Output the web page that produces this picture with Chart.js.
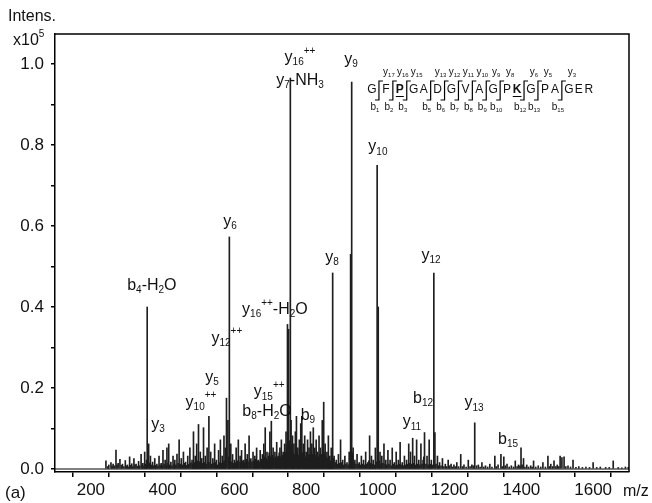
<!DOCTYPE html>
<html><head><meta charset="utf-8">
<script src="https://cdn.jsdelivr.net/npm/chart.js@4.4.1/dist/chart.umd.min.js"></script>
<style>html,body{margin:0;padding:0;background:#fff}canvas{display:block}</style>
</head><body>
<canvas id="c" width="652" height="503" style="width:652px;height:503px"></canvas>
<script>
// ---- data: m/z and intensity (x10^5) ----
const mzA = [242,247,250,256,259,262,266,270,273,276,
281,285,288,292,296,299,302,305,308,311,
314,317,320,323,326,330,333,336,340,343,
345,348,350,353,355,357,361,364,366,369,
372,375,378,381,384,387,390,393,396,399,
401,404,407,410,412,415,417,420,423,426,
429,432,434,437,440,443,446,449,452,455,
458,461,464,467,470,473,476,479,482,484,
486,489,491,493,495,498];
const intA = [.020,.006,.010,.016,.007,.012,.008,.047,.010,.014,
.024,.009,.012,.006,.021,.008,.010,.005,.030,.009,
.013,.006,.026,.010,.012,.007,.019,.008,.036,.010,
.014,.008,.042,.012,.022,.400,.062,.015,.032,.010,
.017,.008,.026,.009,.012,.007,.032,.010,.014,.008,
.046,.012,.022,.009,.052,.015,.062,.010,.017,.008,
.032,.012,.022,.010,.037,.014,.072,.012,.026,.010,
.042,.014,.017,.009,.032,.012,.052,.015,.022,.012,
.092,.016,.032,.012,.062,.020];
const mzB = [500,503,505,507,509,512,514,517,519,522,
524,527,529,532,534,537,540,543,545,548,
550,553,556,559,561,564,566,569,571,573,
575,578,582,584,586,588,590,593,595,598,
600,603,605,608,611,613,616,618,620,623,
626,628,630,633,636,638,641,643,646,649,
652,654,657,659,662,664,667,669,672,675,
678,680,682,684,686,689,691,693,695,697,
699,701,703,706,708,710,713,715,718,720,
722,725,727,729,731,734,736,738,740,742,
744,746,748,751,753,756,758,760];
const intB = [.110,.018,.042,.012,.026,.014,.102,.016,.032,.012,
.052,.018,.130,.016,.042,.012,.026,.014,.062,.016,
.022,.010,.046,.016,.072,.014,.032,.018,.082,.020,
.052,.175,.120,.030,.573,.040,.062,.018,.036,.014,
.022,.016,.052,.020,.072,.018,.032,.014,.046,.020,
.022,.016,.062,.024,.036,.018,.082,.022,.026,.018,
.042,.020,.032,.024,.052,.020,.022,.018,.046,.024,
.036,.022,.062,.030,.102,.026,.042,.022,.032,.040,
.092,.030,.118,.034,.052,.026,.042,.030,.066,.028,
.032,.040,.052,.030,.072,.034,.042,.030,.062,.040,
.092,.060,.357,.345,.070,.965,.120,.060];
const mzC = [762,764,766,768,770,773,775,777,779,781,
783,785,788,790,792,794,796,798,800,802,
804,806,808,810,812,814,816,818,820,822,
824,826,828,830,832,834,836,838,840,842,
845,847,849,851,853,856,858,860,862,864,
866,868,870,872,874,876,878,881,884,887,
890,893,896,899,902,905,908,911,914,917,
920,922,924,927,929,931,934,936,939,942,
945,948,951,954,957,960,963,966,969,972,
975,977,980,982,985,987,990,993,995,998];
const intC = [.082,.040,.062,.036,.092,.130,.040,.052,.034,.072,
.040,.112,.130,.040,.062,.036,.082,.030,.042,.036,
.072,.034,.052,.036,.092,.040,.062,.036,.102,.040,
.052,.034,.072,.036,.042,.030,.082,.036,.052,.036,
.120,.050,.165,.040,.062,.030,.042,.026,.082,.026,
.032,.020,.052,.040,.484,.026,.032,.016,.022,.012,
.036,.014,.072,.016,.022,.010,.032,.012,.016,.010,
.042,.020,.530,.955,.040,.052,.016,.022,.012,.036,
.012,.016,.010,.032,.012,.022,.010,.042,.012,.016,
.020,.082,.014,.032,.012,.022,.010,.052,.018,.750];
const mzD = [1001,1004,1006,1009,1011,1014,1017,1020,1022,1025,
1028,1031,1034,1037,1040,1043,1046,1049,1051,1054,
1057,1060,1062,1065,1068,1071,1074,1077,1080,1083,
1086,1089,1091,1094,1097,1100,1102,1105,1108,1111,
1114,1117,1120,1123,1126,1128,1130,1134,1137,1140,
1143,1146,1149,1152,1156,1159,1162,1166,1169,1172,
1176,1180,1184,1188,1192,1196,1200,1204,1208,1212,
1216,1220,1225,1231,1236,1240,1246,1252,1257,1262,
1266,1270,1275,1280,1285,1290,1295,1300,1306,1312,
1318,1326,1330,1335,1343,1347,1351,1355,1360,1366,
1372,1378,1383,1388,1392,1396,1399,1402,1406,1410,
1415,1420,1426,1430,1434,1440,1447,1454,1460,1467,
1474,1478,1482,1487,1491,1496,1500,1504,1508,1513,
1519,1524,1530,1537,1544,1552,1560,1570,1580,1590,
1600,1610,1620,1635,1645,1656,1670,1680,1690,1698];
const intD = [.400,.020,.042,.012,.032,.014,.062,.012,.022,.010,
.046,.012,.022,.008,.052,.012,.016,.008,.042,.010,
.022,.012,.066,.010,.016,.008,.032,.010,.022,.012,
.062,.014,.042,.012,.076,.014,.032,.010,.072,.012,
.022,.010,.062,.012,.022,.030,.090,.012,.032,.010,
.072,.012,.022,.010,.484,.090,.012,.032,.008,.016,
.008,.026,.006,.012,.006,.022,.008,.012,.005,.010,
.006,.016,.006,.036,.006,.010,.005,.022,.006,.010,
.008,.114,.008,.010,.005,.016,.005,.008,.005,.012,
.005,.032,.006,.010,.036,.006,.030,.008,.012,.005,
.008,.005,.020,.006,.010,.008,.052,.010,.026,.005,
.010,.005,.008,.005,.020,.005,.008,.005,.016,.005,
.032,.006,.012,.006,.020,.006,.010,.006,.032,.028,
.030,.006,.008,.005,.022,.004,.006,.004,.005,.004,
.016,.004,.005,.004,.004,.020,.004,.003,.005,.004];

const mzValues = [...mzA, ...mzB, ...mzC, ...mzD];
const intensities = [...intA, ...intB, ...intC, ...intD];

const xTickValues = [100,200,300,400,500,600,700,800,900,1000,1100,1200,1300,1400,1500,1600,1700];
const xTickLabels = [200,400,600,800,1000,1200,1400,1600];
const yTickValues = [0,0.1,0.2,0.3,0.4,0.5,0.6,0.7,0.8,0.9,1.0];
const yTickLabels = [0,0.2,0.4,0.6,0.8,1.0];

// peak annotations: text parts and centre in data units (m/z, intensity)
const peakLabels = [
  {mz:783, v:1.015, parts:[['y'],['16','sub'],['++','sup']]},
  {mz:783, v:0.960, parts:[['y'],['7','sub'],['-NH'],['3','sub']]},
  {mz:925, v:1.010, parts:[['y'],['9','sub']]},
  {mz:1000,v:0.795, parts:[['y'],['10','sub']]},
  {mz:872, v:0.523, parts:[['y'],['8','sub']]},
  {mz:1148,v:0.528, parts:[['y'],['12','sub']]},
  {mz:588, v:0.610, parts:[['y'],['6','sub']]},
  {mz:370, v:0.452, parts:[['b'],['4','sub'],['-H'],['2','sub'],['O']]},
  {mz:713, v:0.393, parts:[['y'],['16','sub'],['++','sup'],['-H'],['2','sub'],['O']]},
  {mz:697, v:0.190, parts:[['y'],['15','sub'],['++','sup']]},
  {mz:691, v:0.141, parts:[['b'],['8','sub'],['-H'],['2','sub'],['O']]},
  {mz:805, v:0.133, parts:[['b'],['9','sub']]},
  {mz:1126,v:0.175, parts:[['b'],['12','sub']]},
  {mz:1095,v:0.116, parts:[['y'],['11','sub']]},
  {mz:1268,v:0.163, parts:[['y'],['13','sub']]},
  {mz:1363,v:0.072, parts:[['b'],['15','sub']]},
  {mz:387, v:0.109, parts:[['y'],['3','sub']]},
  {mz:579, v:0.323, parts:[['y'],['12','sub'],['++','sup']]},
  {mz:538, v:0.225, parts:[['y'],['5','sub']]},
  {mz:507, v:0.165, parts:[['y'],['10','sub'],['++','sup']]}
];

// peptide sequence with fragment cleavage sites (after residue n)
const sequence = ['G','F','P','G','A','D','G','V','A','G','P','K','G','P','A','G','E','R'];
const cleavageAfter = [1,2,3,5,6,7,8,9,10,12,13,15];
const modifiedResidues = [3,12];

const FONT = '"Liberation Sans", Arial, sans-serif';

function drawRich(ctx, parts, cx, cy, size, align){
  const small = Math.round(size*0.62);
  const ws = parts.map(p=>{ctx.font = (p[1]?small:size)+'px '+FONT; return ctx.measureText(p[0]).width;});
  const total = ws.reduce((a,b)=>a+b,0);
  let x = align==='left' ? cx : (align==='right' ? cx-total : cx-total/2);
  ctx.textBaseline='middle'; ctx.textAlign='left';
  parts.forEach((p,i)=>{
    let yy = cy;
    if(p[1]==='sub'){ctx.font=small+'px '+FONT; yy = cy+size*0.3;}
    else if(p[1]==='sup'){ctx.font=small+'px '+FONT; yy = cy-size*0.42;}
    else ctx.font=size+'px '+FONT;
    ctx.fillText(p[0], x, yy);
    x += ws[i];
  });
}

const decor = {
  id:'decor',
  afterDraw(chart){
    const {ctx, chartArea:a, scales} = chart;
    const xs = scales.x, ys = scales.y;
    ctx.save();
    ctx.strokeStyle='#000';
    ctx.lineWidth=1.5;
    ctx.beginPath();
    ctx.moveTo(a.left, a.top); ctx.lineTo(a.right, a.top); ctx.lineTo(a.right, a.bottom);
    ctx.stroke();
    const y0 = ys.getPixelForValue(0);
    ctx.lineWidth=1;
    ctx.beginPath(); ctx.moveTo(a.left, y0); ctx.lineTo(a.right, y0); ctx.stroke();

    ctx.fillStyle='#111';
    peakLabels.forEach(l=>{
      drawRich(ctx, l.parts, xs.getPixelForValue(l.mz), ys.getPixelForValue(l.v), 16, 'center');
    });

    // axis captions
    drawRich(ctx, [['Intens.']], 8, 17, 16, 'left');
    drawRich(ctx, [['x10'],['5','sup']], 13, 41, 16, 'left');
    drawRich(ctx, [['(a)']], 5, 493, 17, 'left');
    drawRich(ctx, [['m/z']], 623, 492, 16, 'left');

    // peptide sequence diagram
    const letterY = 90, topY = 81, botY = 100;
    let x = 372;
    const pos = [];
    for(let i=0;i<sequence.length;i++){
      pos.push(x);
      if(i<sequence.length-1) x += cleavageAfter.includes(i+1) ? 13.9 : 10;
    }
    ctx.textAlign='center'; ctx.textBaseline='middle';
    sequence.forEach((s,i)=>{
      const mod = modifiedResidues.includes(i+1);
      ctx.font = (mod?'bold ':'')+'12px '+FONT;
      ctx.fillText(s, pos[i], letterY);
      if(mod){
        const w = ctx.measureText(s).width;
        ctx.lineWidth=1; ctx.beginPath();
        ctx.moveTo(pos[i]-w/2, letterY+6.5); ctx.lineTo(pos[i]+w/2, letterY+6.5); ctx.stroke();
      }
    });
    ctx.lineWidth=1.2;
    cleavageAfter.forEach(n=>{
      const bx = (pos[n-1]+pos[n])/2;
      ctx.beginPath();
      ctx.moveTo(bx+4, topY); ctx.lineTo(bx, topY); ctx.lineTo(bx, botY); ctx.lineTo(bx-4, botY);
      ctx.stroke();
      drawRich(ctx, [['y'],[String(sequence.length-n),'sub']], pos[n]+3, 72, 10, 'center');
      drawRich(ctx, [['b'],[String(n),'sub']], pos[n-1]+3, 107, 10, 'center');
    });
    ctx.restore();
  }
};

new Chart(document.getElementById('c'), {
  type:'bar',
  data:{datasets:[{
    data: mzValues.map((m,i)=>({x:m, y:intensities[i]})),
    backgroundColor:'#1e1e1e', borderWidth:0, barThickness:1
  }]},
  options:{
    responsive:false, animation:false, devicePixelRatio:1,
    layout:{padding:{top:34, right:23, left:0, bottom:0}},
    plugins:{legend:{display:false}, tooltip:{enabled:false}},
    scales:{
      x:{type:'linear', min:100, max:1700, offset:false,
        afterBuildTicks:s=>{s.ticks = xTickValues.map(v=>({value:v}));},
        afterFit:s=>{s.height=31;},
        ticks:{autoSkip:false, maxRotation:0, padding:3, color:'#111',
          font:{family:FONT, size:17},
          callback:v=> xTickLabels.includes(v) ? String(v) : ''},
        grid:{drawOnChartArea:false, drawTicks:true, tickLength:5, color:'#000', lineWidth:1.5},
        border:{display:true, color:'#000', width:1.5}
      },
      y:{min:-0.0074, max:1.074,
        afterBuildTicks:s=>{s.ticks = yTickValues.map(v=>({value:v}));},
        afterFit:s=>{s.width=55;},
        ticks:{autoSkip:false, padding:7, color:'#111',
          font:{family:FONT, size:17},
          callback:v=> yTickLabels.some(t=>Math.abs(t-v)<1e-6) ? v.toFixed(1) : ''},
        grid:{drawOnChartArea:false, drawTicks:true, tickLength:4, color:'#000', lineWidth:1.5},
        border:{display:true, color:'#000', width:1.5}
      }
    }
  },
  plugins:[decor]
});
</script>
</body></html>
